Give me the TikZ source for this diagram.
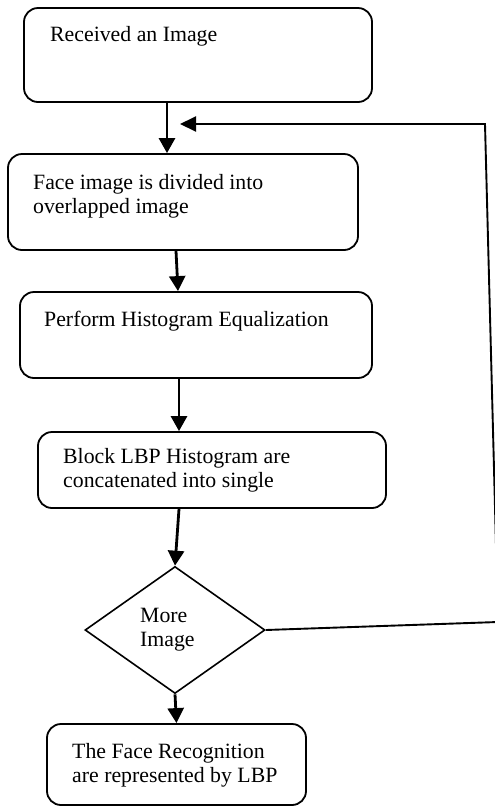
\documentclass[tikz,border=0pt]{standalone}
\usepackage{fontspec}
\setmainfont{Liberation Serif}
\usetikzlibrary{arrows.meta,shapes.geometric}
\begin{document}
\begin{tikzpicture}[x=1pt,y=-1pt,
  box/.style={draw,line width=1.8pt,rounded corners=14pt,inner sep=0pt},
  txt/.style={anchor=base west,inner sep=0pt,align=left,font=\fontsize{21.8}{24}\selectfont},
  flow/.style={line width=2.8pt,-{Triangle[width=16pt,length=15pt]}},
  back/.style={line width=1.9pt,-{Triangle[width=15pt,length=16pt]}},
]
\useasboundingbox (0,0) rectangle (495,807);
\clip (0,0) rectangle (495,807);

\node[box,minimum width=348pt,minimum height=94pt] (b1) at (198,55) {};
\node[box,minimum width=350pt,minimum height=96pt] (b2) at (183,202) {};
\node[box,minimum width=352pt,minimum height=86pt] (b3) at (196,335) {};
\node[box,minimum width=348pt,minimum height=76pt] (b4) at (212,470) {};
\node[draw,diamond,line width=1.6pt,minimum width=180pt,minimum height=127pt,inner sep=0pt] (d) at (175,630) {};
\node[box,minimum width=259pt,minimum height=81pt] (b5) at (176.5,764.5) {};

\node[txt] (t1) at (50,41) {Received an Image};
\node[txt] (t2) at (33,213) {Face image is divided into\\overlapped image};
\node[txt] (t3) at (44,326) {Perform Histogram Equalization};
\node[txt] (t4) at (63,487) {Block LBP Histogram are\\concatenated into single};
\node[txt] (t5) at (140,646) {More\\Image};
\node[txt] (t6) at (72,782) {The Face Recognition\\are represented by LBP};

\draw[flow] ([xshift=-31pt]b1.south) -- ([xshift=-16pt]b2.north);
\draw[flow] ([xshift=-7pt]b2.south) -- ([xshift=-18pt]b3.north);
\draw[flow] ([xshift=-17pt]b3.south) -- ([xshift=-33pt]b4.north);
\draw[flow] ([xshift=-33pt]b4.south) -- (d.north);
\draw[flow] (d.south) -- (b5.north);

\coordinate (c1) at (498,622);
\coordinate (c2) at (485,124);
\coordinate (fb) at (180,124);
\draw[back] (d.east) -- (c1) -- (c2) -- (fb);
\end{tikzpicture}
\end{document}
